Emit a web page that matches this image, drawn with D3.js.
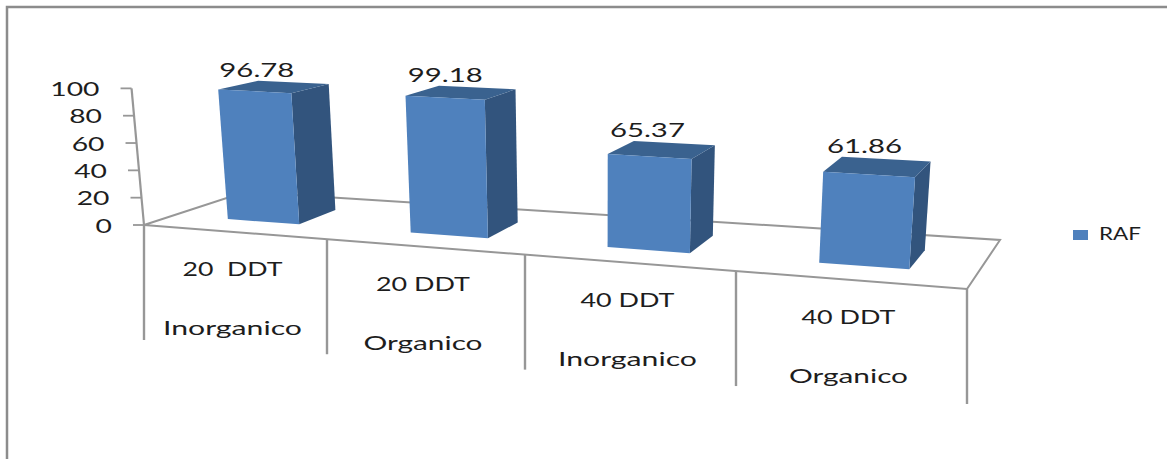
<!DOCTYPE html>
<html>
<head>
<meta charset="utf-8">
<script src="https://cdn.jsdelivr.net/npm/d3@7"></script>
<style>
html,body{margin:0;padding:0;background:#fff;}
svg{display:block;}
text{font-family:Lato,"Open Sans",sans-serif;fill:#1d1d1d;}
</style>
</head>
<body>
<svg id="chart" width="1167" height="459"></svg>
<script>
// Chart content
const categories = ["20  DDT|Inorganico","20 DDT|Organico","40 DDT|Inorganico","40 DDT|Organico"];
const values = [96.78, 99.18, 65.37, 61.86];
const valueLabels = ["96.78","99.18","65.37","61.86"];
const yTicks = [0,20,40,60,80,100];
const seriesName = "RAF";

const svg = d3.select("#chart");

// Floor of the 3D plot: front and back edges indexed by category position
const frontX = d3.scaleLinear().domain([0,1,2,3,4]).range([144,327,525,736,967]);
const frontY = d3.scaleLinear().domain([144,967]).range([225,289]);
const backX  = d3.scaleLinear().domain([144,967]).range([245,1000]);
const backY  = d3.scaleLinear().domain([245,1000]).range([192,240]);

// Pixel height of a full-scale column grows towards the right and the viewer
const fullHeight = x => 134 + (x - 229) * 0.022;
const depthShrink = 15;
const vanishX = 600, lean = 0.0002;
const heightScale = d3.scaleLinear().domain([0,100]).range([0,1]);

function project(c, d, v) {
  const fx = frontX(c), fy = frontY(fx);
  const bx = backX(fx), by = backY(bx);
  const x = fx + (bx - fx) * d;
  const y = fy + (by - fy) * d;
  const h = heightScale(v) * (fullHeight(x) - (d - 0.3) * depthShrink);
  return [x + (x - vanishX) * lean * h, y - h];
}
const poly = pts => "M" + pts.map(p => p.join(",")).join("L") + "Z";

const gridColor = "#979797";

// Frame around the chart area
svg.append("path").attr("d", "M7,459V7H1167").attr("fill","none")
  .attr("stroke","#8c8c8c").attr("stroke-width",2.5);

// Floor outline
const floorCorners = [project(0,0,0), project(0,1,0), project(4,1,0), project(4,0,0)];
svg.append("path").attr("d", poly(floorCorners)).attr("fill","#fff")
  .attr("stroke",gridColor).attr("stroke-width",2);

// Vertical value axis with ticks and labels
svg.append("path").attr("d", d3.line()([project(0,0,0), project(0,0,100)]))
  .attr("fill","none").attr("stroke",gridColor).attr("stroke-width",2.2);
const axisG = svg.append("g");
yTicks.forEach(t => {
  const p = project(0,0,t);
  axisG.append("line").attr("x1",p[0]-11).attr("x2",p[0]).attr("y1",p[1]).attr("y2",p[1])
    .attr("stroke",gridColor).attr("stroke-width",1.8);
  const w = String(t).length * 16.4;
  axisG.append("text").attr("x",p[0]-32).attr("y",p[1]+7.5).attr("text-anchor","end")
    .attr("font-size",20).attr("textLength",w).attr("lengthAdjust","spacingAndGlyphs")
    .text(t);
});

// Category dividers hanging from the front floor edge
d3.range(categories.length + 1).forEach(i => {
  const p = project(i,0,0);
  svg.append("line").attr("x1",p[0]).attr("x2",p[0]).attr("y1",p[1]).attr("y2",p[1]+115)
    .attr("stroke",gridColor).attr("stroke-width",2.4);
});

// Two-line category labels
categories.forEach((cat,i) => {
  const [top,bottom] = cat.split("|");
  const p = project(i+0.5,0,0);
  const cx = p[0] - 3;
  svg.append("text").attr("x",cx).attr("y",p[1]+44).attr("text-anchor","middle")
    .attr("font-size",20).attr("textLength",top.includes("  ")?100:94).attr("lengthAdjust","spacingAndGlyphs")
    .attr("xml:space","preserve").text(top);
  svg.append("text").attr("x",cx).attr("y",p[1]+103).attr("text-anchor","middle")
    .attr("font-size",20).attr("textLength",bottom==="Inorganico"?139:119).attr("lengthAdjust","spacingAndGlyphs")
    .text(bottom);
});

// Columns: each occupies the central part of its category slot
const band = d3.scaleBand().domain(d3.range(values.length)).range([0,values.length]).paddingInner(0.6).paddingOuter(0.3);
const d0 = 0.3, d1 = 0.7;
const colors = {front:"#4f81bd", top:"#3a628f", side:"#32547d"};
values.forEach((v,i) => {
  const c0 = band(i), c1 = band(i) + band.bandwidth();
  const fl0 = project(c0,d0,0), fr0 = project(c1,d0,0), br0 = project(c1,d1,0);
  const flv = project(c0,d0,v), frv = project(c1,d0,v), brv = project(c1,d1,v), blv = project(c0,d1,v);
  svg.append("path").attr("d",poly([frv,brv,br0,fr0])).attr("fill",colors.side);
  svg.append("path").attr("d",poly([flv,blv,brv,frv])).attr("fill",colors.top);
  svg.append("path").attr("d",poly([flv,frv,fr0,fl0])).attr("fill",colors.front);
  // Value label centred over the front face, drifting slightly left towards the right of the plot
  const mid = (flv[0]+frv[0])/2;
  svg.append("text").attr("x",mid-(mid-446)*0.011).attr("y",blv[1]-4).attr("text-anchor","middle")
    .attr("font-size",20).attr("textLength",75).attr("lengthAdjust","spacingAndGlyphs")
    .text(valueLabels[i]);
});

// Legend
const legend = svg.append("g");
legend.append("rect").attr("x",1073).attr("y",230).attr("width",15).attr("height",10).attr("fill",colors.front);
legend.append("text").attr("x",1099).attr("y",240).attr("font-size",18)
  .attr("textLength",42).attr("lengthAdjust","spacingAndGlyphs").text(seriesName);
</script>
</body>
</html>
